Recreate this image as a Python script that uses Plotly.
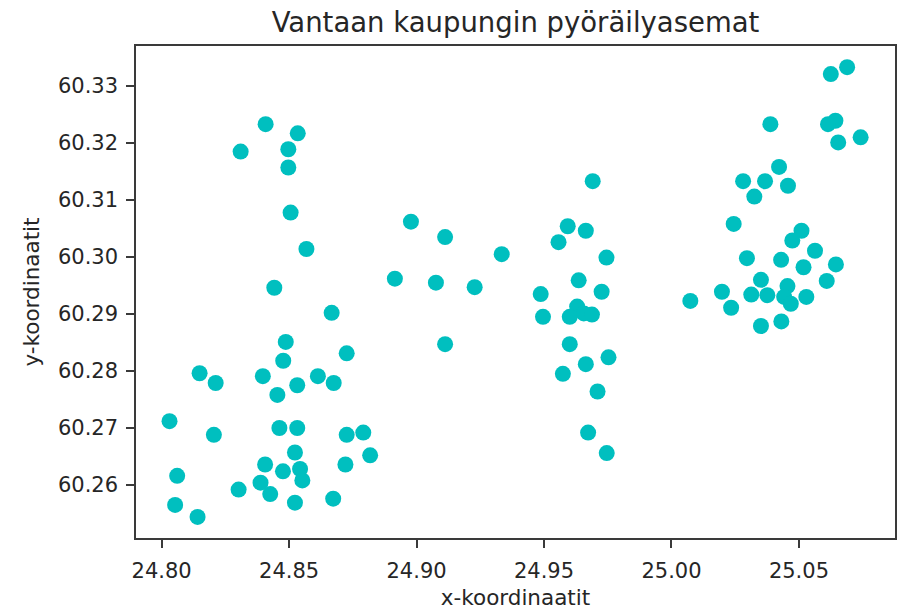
import plotly.graph_objects as go

# Vantaa bike stations: longitude (x) and latitude (y)
x_coords = [
    # west cluster
    24.8408, 24.8534, 24.8310, 24.8497, 24.8497, 24.8506, 24.8568, 24.8442,
    24.8667, 24.8487, 24.8726, 24.8477, 24.8149, 24.8397, 24.8613, 24.8212,
    24.8532, 24.8675, 24.8454, 24.8031, 24.8462, 24.8532, 24.8205, 24.8726,
    24.8791, 24.8523, 24.8818, 24.8406, 24.8721, 24.8061, 24.8476, 24.8543,
    24.8552, 24.8388, 24.8302, 24.8426, 24.8053, 24.8523, 24.8673, 24.8141,
    # middle cluster
    24.8978, 24.9112, 24.9334, 24.8915, 24.9076, 24.9228, 24.9112,
    # centre-east cluster
    24.9691, 24.9593, 24.9664, 24.9557, 24.9745, 24.9636, 24.9726, 24.9487,
    24.9630, 24.9496, 24.9601, 24.9656, 24.9688, 24.9601, 24.9753, 24.9664,
    24.9574, 24.9710, 24.9673, 24.9746,
    # east cluster
    25.0689, 25.0625, 25.0388, 25.0643, 25.0614, 25.0742, 25.0654, 25.0422,
    25.0281, 25.0367, 25.0457, 25.0325, 25.0244, 25.0510, 25.0474, 25.0563,
    25.0296, 25.0430, 25.0645, 25.0518, 25.0609, 25.0351, 25.0455, 25.0198,
    25.0313, 25.0376, 25.0442, 25.0468, 25.0529, 25.0074, 25.0234, 25.0351,
    25.0431,
]
y_coords = [
    60.3233, 60.3217, 60.3185, 60.3189, 60.3157, 60.3078, 60.3014, 60.2946,
    60.2902, 60.2851, 60.2831, 60.2818, 60.2796, 60.2791, 60.2791, 60.2779,
    60.2775, 60.2779, 60.2758, 60.2712, 60.2700, 60.2700, 60.2688, 60.2688,
    60.2692, 60.2657, 60.2652, 60.2636, 60.2636, 60.2616, 60.2624, 60.2628,
    60.2608, 60.2604, 60.2592, 60.2584, 60.2565, 60.2569, 60.2576, 60.2544,
    60.3062, 60.3035, 60.3005, 60.2962, 60.2955, 60.2947, 60.2847,
    60.3133, 60.3054, 60.3046, 60.3026, 60.2999, 60.2959, 60.2939, 60.2935,
    60.2913, 60.2895, 60.2895, 60.2901, 60.2899, 60.2847, 60.2824, 60.2812,
    60.2795, 60.2764, 60.2692, 60.2656,
    60.3333, 60.3321, 60.3233, 60.3239, 60.3233, 60.3210, 60.3201, 60.3158,
    60.3133, 60.3133, 60.3125, 60.3106, 60.3058, 60.3046, 60.3029, 60.3011,
    60.2998, 60.2995, 60.2987, 60.2982, 60.2958, 60.2960, 60.2949, 60.2939,
    60.2934, 60.2933, 60.2930, 60.2918, 60.2930, 60.2923, 60.2911, 60.2879,
    60.2887,
]

x_ticks = [24.80, 24.85, 24.90, 24.95, 25.00, 25.05]
x_tick_labels = ["24.80", "24.85", "24.90", "24.95", "25.00", "25.05"]
y_ticks = [60.26, 60.27, 60.28, 60.29, 60.30, 60.31, 60.32, 60.33]
y_tick_labels = ["60.26", "60.27", "60.28", "60.29", "60.30", "60.31", "60.32", "60.33"]

title_text = "Vantaan kaupungin pyöräilyasemat"
x_title = "x-koordinaatit"
y_title = "y-koordinaatit"

FONT = "DejaVu Sans"
TXT = "#262626"

fig = go.Figure()
fig.add_trace(go.Scatter(
    x=x_coords, y=y_coords, mode="markers",
    marker=dict(color="#00BFBF", size=16, line=dict(width=0)),
    hoverinfo="x+y", showlegend=False,
))

axis_common = dict(
    showgrid=False, zeroline=False, showline=True, mirror=True,
    linecolor="#3a3a3a", linewidth=1.5,
    ticks="outside", ticklen=8, tickwidth=1.5, tickcolor="#3a3a3a",
    tickfont=dict(family=FONT, size=21, color=TXT),
)

fig.update_layout(
    width=899, height=610,
    margin=dict(l=136, r=2, t=46, b=72),
    paper_bgcolor="white", plot_bgcolor="white",
    title=dict(text=title_text, x=0.5, xref="paper", y=0.963, yref="container",
               xanchor="center", yanchor="middle",
               font=dict(family=FONT, size=27.5, color=TXT)),
    xaxis=dict(range=[24.78995, 25.08768], tickvals=x_ticks, ticktext=x_tick_labels,
               ticklabelstandoff=5,
               title=dict(text=x_title, font=dict(family=FONT, size=21.5, color=TXT), standoff=9),
               **axis_common),
    yaxis=dict(range=[60.25070, 60.33702], tickvals=y_ticks, ticktext=y_tick_labels,
               ticklabelstandoff=4,
               title=dict(text=y_title, font=dict(family=FONT, size=21.5, color=TXT), standoff=12),
               **axis_common),
)

fig.write_html("out.html")
